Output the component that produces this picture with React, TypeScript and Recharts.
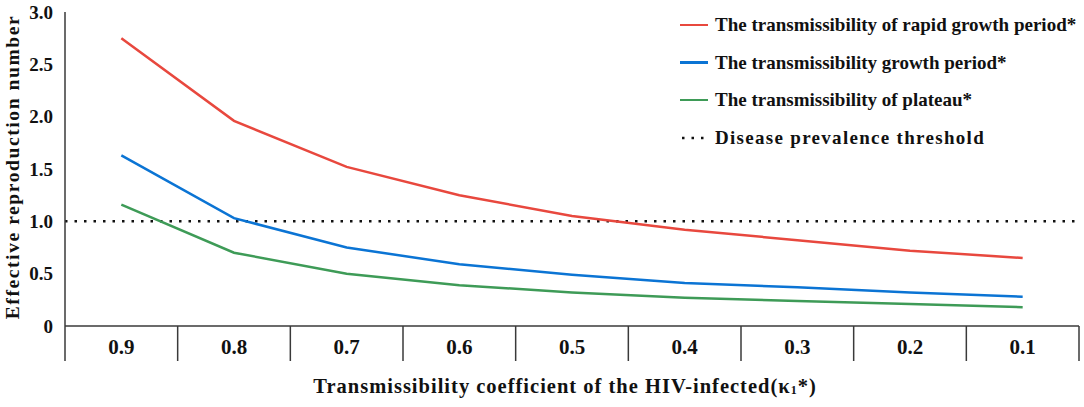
import React from "react";
import { LineChart, Line, XAxis, YAxis, ReferenceLine } from "recharts";

const categories = ["0.9", "0.8", "0.7", "0.6", "0.5", "0.4", "0.3", "0.2", "0.1"];
const rapidGrowth = [2.75, 1.96, 1.52, 1.25, 1.05, 0.92, 0.82, 0.72, 0.65];
const growth = [1.63, 1.03, 0.75, 0.59, 0.49, 0.41, 0.37, 0.32, 0.28];
const plateau = [1.16, 0.7, 0.5, 0.39, 0.32, 0.27, 0.24, 0.21, 0.18];
const yTicks = [0, 0.5, 1, 1.5, 2, 2.5, 3];
const threshold = 1;

const seriesNames = [
  "The transmissibility of rapid growth period*",
  "The transmissibility growth period*",
  "The transmissibility of plateau*",
];
const thresholdName = "Disease prevalence threshold";

const colors = ["#E8483E", "#0B74D4", "#3E9B57"];

const W = 1084;
const H = 407;
const PLOT_LEFT = 65;
const PLOT_RIGHT = 1079;
const HALF = (PLOT_RIGHT - PLOT_LEFT) / categories.length / 2;
const AXIS = "#3a3a3a";
const FONT = "'Liberation Serif', 'Times New Roman', serif";

const data = categories.map((k, i) => ({
  k,
  rapid: rapidGrowth[i],
  growth: growth[i],
  plateau: plateau[i],
}));

function XTick(props: any) {
  const { x, y, payload, index } = props;
  return (
    <g>
      <line x1={x - HALF} y1={y} x2={x - HALF} y2={y + 35} stroke={AXIS} strokeWidth={1.5} />
      {index === categories.length - 1 && (
        <line x1={x + HALF} y1={y} x2={x + HALF} y2={y + 35} stroke={AXIS} strokeWidth={1.5} />
      )}
      <text
        x={x}
        y={y + 21}
        textAnchor="middle"
        dominantBaseline="central"
        fontFamily={FONT}
        fontWeight="bold"
        fontSize={21}
        fill="#111"
      >
        {payload.value}
      </text>
    </g>
  );
}

export default function App() {
  return (
    <div style={{ position: "absolute", left: 0, top: 0, width: W, height: H, background: "#fff" }}>
      <LineChart width={W} height={H} data={data} margin={{ top: 12, right: W - PLOT_RIGHT, left: 0, bottom: 21 }}>
        <XAxis
          dataKey="k"
          scale="point"
          padding={{ left: HALF, right: HALF }}
          interval={0}
          height={60}
          tickLine={false}
          tickSize={0}
          tickMargin={0}
          axisLine={{ stroke: AXIS, strokeWidth: 1.5 }}
          tick={<XTick />}
          label={{
            content: ({ viewBox }: any) => (
              <text
                x={viewBox.x + viewBox.width / 2 - 7}
                y={viewBox.y + 60}
                textAnchor="middle"
                dominantBaseline="central"
                fontFamily={FONT}
                fontWeight="bold"
                fontSize={20.5}
                letterSpacing={1}
                fill="#111"
              >
                Transmissibility coefficient of the HIV-infected(κ
                <tspan fontSize={12} dy={4}>1</tspan>
                <tspan dy={-4}>*)</tspan>
              </text>
            ),
          }}
        />
        <YAxis
          width={PLOT_LEFT}
          domain={[0, 3]}
          ticks={yTicks}
          interval={0}
          tickLine={false}
          tickSize={0}
          tickMargin={12}
          tickFormatter={(v: number) => (v === 0 ? "0" : v.toFixed(1))}
          tick={{ fill: "#111", fontSize: 19, fontWeight: "bold", fontFamily: FONT }}
          axisLine={{ stroke: AXIS, strokeWidth: 1.5 }}
          label={{
            content: ({ viewBox }: any) => {
              const cy = viewBox.y + viewBox.height / 2 - 2;
              return (
                <text
                  x={12}
                  y={cy}
                  transform={`rotate(-90, 12, ${cy})`}
                  textAnchor="middle"
                  dominantBaseline="central"
                  fontFamily={FONT}
                  fontWeight="bold"
                  fontSize={19.5}
                  letterSpacing={1.6}
                  fill="#111"
                >
                  Effective reproduction number
                </text>
              );
            },
          }}
        />
        <ReferenceLine y={threshold} stroke="#111" strokeWidth={2.5} strokeDasharray="2.5 7" />
        <Line type="linear" dataKey="rapid" stroke={colors[0]} strokeWidth={2.5} dot={false} isAnimationActive={false} />
        <Line type="linear" dataKey="growth" stroke={colors[1]} strokeWidth={2.5} dot={false} isAnimationActive={false} />
        <Line type="linear" dataKey="plateau" stroke={colors[2]} strokeWidth={2.5} dot={false} isAnimationActive={false} />
      </LineChart>
      <div style={{ position: "absolute", left: 680, top: 6, fontFamily: FONT, fontWeight: "bold", fontSize: 19, color: "#111" }}>
        {seriesNames.map((name, i) => (
          <div key={name} style={{ display: "flex", alignItems: "center", height: 37.7 }}>
            <span style={{ display: "inline-block", width: 28, height: 2.5, background: colors[i], marginRight: 7 }} />
            <span style={{ whiteSpace: "nowrap" }}>{name}</span>
          </div>
        ))}
        <div style={{ display: "flex", alignItems: "center", height: 37.7 }}>
          <svg width={28} height={4} style={{ marginRight: 7 }}>
            <line x1={2} y1={2} x2={28} y2={2} stroke="#111" strokeWidth={2.5} strokeDasharray="2.5 7" />
          </svg>
          <span style={{ whiteSpace: "nowrap", letterSpacing: 1.3 }}>{thresholdName}</span>
        </div>
      </div>
    </div>
  );
}
